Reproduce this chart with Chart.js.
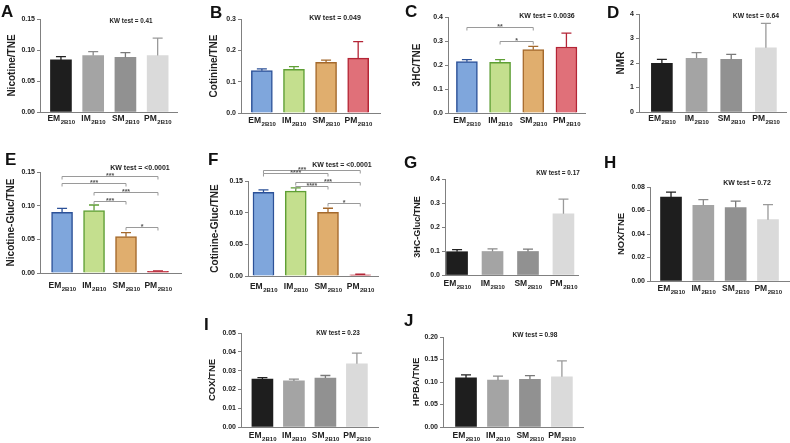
<!DOCTYPE html>
<html>
<head>
<meta charset="utf-8">
<script src="https://cdn.jsdelivr.net/npm/chart.js@4.4.1/dist/chart.umd.min.js"></script>
<style>
  html, body { margin: 0; padding: 0; background: #fff; }
  #wrap { position: relative; width: 790px; height: 443px; overflow: hidden; font-family: "Liberation Sans", Arial, sans-serif; }
  .box { position: absolute; }
  .letter { position: absolute; font-weight: bold; font-size: 17px; line-height: 17px; color: #111; }
</style>
</head>
<body>
<div id="wrap"></div>
<script>
  const groups = ['EM', 'IM', 'SM', 'PM'];
  const groupSub = '2B10';

  // mean and SEM (upper whisker) per group
  const nicotineMean = [0.084, 0.091, 0.088, 0.091];
  const nicotineErr = [0.0054, 0.0065, 0.0078, 0.028];
  const cotinineMean = [0.135, 0.139, 0.162, 0.175];
  const cotinineErr = [0.006, 0.009, 0.007, 0.053];
  const hcMean = [0.214, 0.211, 0.264, 0.275];
  const hcErr = [0.008, 0.011, 0.0135, 0.058];
  const nmrMean = [1.99, 2.19, 2.15, 2.62];
  const nmrErr = [0.16, 0.23, 0.2, 1.0];
  const nicGlucMean = [0.090, 0.0927, 0.054, 0.0024];
  const nicGlucErr = [0.006, 0.0083, 0.006, 0.0008];
  const cotGlucMean = [0.132, 0.134, 0.1006, 0.002];
  const cotGlucErr = [0.004, 0.005, 0.0064, 0.0008];
  const hcGlucMean = [0.097, 0.098, 0.098, 0.255];
  const hcGlucErr = [0.009, 0.011, 0.010, 0.061];
  const noxMean = [0.0715, 0.0644, 0.0625, 0.0522];
  const noxErr = [0.0042, 0.0049, 0.0055, 0.0128];
  const coxMean = [0.0255, 0.0245, 0.026, 0.0336];
  const coxErr = [0.0008, 0.001, 0.0014, 0.0057];
  const hpbaMean = [0.109, 0.104, 0.106, 0.1116];
  const hpbaErr = [0.007, 0.009, 0.008, 0.0354];

  const kwValues = ['0.41', '0.049', '0.0036', '0.64', '<0.0001', '<0.0001', '0.17', '0.72', '0.23', '0.98'];

  // significance brackets: groups a-b, height in data units
  const hcBrackets = [
    { a: 0, b: 2, y: 0.357, label: '**' },
    { a: 1, b: 2, y: 0.300, label: '*' }
  ];
  const nicGlucBrackets = [
    { a: 0, b: 3, y: 0.144, label: '***' },
    { a: 0, b: 2, y: 0.133, label: '***' },
    { a: 1, b: 3, y: 0.120, label: '***' },
    { a: 1, b: 2, y: 0.107, label: '***' },
    { a: 2, b: 3, y: 0.068, label: '*' }
  ];
  const cotGlucBrackets = [
    { a: 0, b: 3, y: 0.167, label: '***', at: 0.4 },
    { a: 0, b: 2, y: 0.162, label: '****' },
    { a: 1, b: 3, y: 0.149, label: '***' },
    { a: 1, b: 2, y: 0.142, label: '****' },
    { a: 2, b: 3, y: 0.115, label: '*' }
  ];

  const FONT = '"Liberation Sans", Arial, sans-serif';
  const grayPal = {
    fill: ['#1e1e1e', '#a4a4a4', '#919191', '#dadada'],
    line: ['#1e1e1e', '#a4a4a4', '#919191', '#dadada'],
    bw: 0,
    err: ['#222', '#8a8a8a', '#7a7a7a', '#9a9a9a']
  };
  const colorPal = {
    fill: ['#7fa6dc', '#c4df8e', '#e0ae6e', '#e07079'],
    line: ['#2c5198', '#5f9f35', '#a4692c', '#b42536'],
    bw: 1.5,
    err: ['#2c5198', '#5f9f35', '#a4692c', '#b42536']
  };

  const panels = [
    { id: 'A', L: 40, T: 19, R: 177, B: 112, tx: 12, xmin: -0.65, xmax: 3.6, ymax: 0.15, step: 0.05, dec: 2, title: 'Nicotine/TNE', ts: 10, mean: nicotineMean, err: nicotineErr, pal: grayPal, kw: [131, 21, 6.3], letter: [2, 5], ldy: 6 },
    { id: 'B', L: 241, T: 19, R: 380, B: 113, tx: 214, xmin: -0.65, xmax: 3.68, ymax: 0.3, step: 0.1, dec: 1, title: 'Cotinine/TNE', ts: 10, mean: cotinineMean, err: cotinineErr, pal: colorPal, kw: [335, 18, 7], letter: [211, 6], ldy: 7 },
    { id: 'C', L: 448, T: 17, R: 585, B: 113, tx: 417, xmin: -0.57, xmax: 3.56, ymax: 0.4, step: 0.1, dec: 1, title: '3HC/TNE', ts: 10, mean: hcMean, err: hcErr, pal: colorPal, kw: [547, 16, 7], letter: [406, 5], ldy: 7, brackets: hcBrackets },
    { id: 'D', L: 639, T: 14, R: 786, B: 112, tx: 621, xmin: -0.66, xmax: 3.58, ymax: 4, step: 1, dec: 0, title: 'NMR', ts: 10, mean: nmrMean, err: nmrErr, pal: grayPal, kw: [756, 16, 6.8], letter: [608, 6], ldy: 6 },
    { id: 'E', L: 40, T: 172, R: 181, B: 273, tx: 11, xmin: -0.69, xmax: 3.72, ymax: 0.15, step: 0.05, dec: 2, title: 'Nicotine-Gluc/TNE', ts: 10, mean: nicGlucMean, err: nicGlucErr, pal: colorPal, kw: [140, 168, 7], letter: [6, 153], ldy: 12, brackets: nicGlucBrackets },
    { id: 'F', L: 248, T: 181, R: 378, B: 276, tx: 215, xmin: -0.48, xmax: 3.55, ymax: 0.15, step: 0.05, dec: 2, title: 'Cotinine-Gluc/TNE', ts: 10, mean: cotGlucMean, err: cotGlucErr, pal: colorPal, kw: [342, 165, 7], letter: [209, 153], ldy: 10, brackets: cotGlucBrackets },
    { id: 'G', L: 445, T: 179, R: 578, B: 275, tx: 418, xmin: -0.34, xmax: 3.41, ymax: 0.4, step: 0.1, dec: 1, title: '3HC-Gluc/TNE', ts: 9, mean: hcGlucMean, err: hcGlucErr, pal: grayPal, kw: [558, 173, 6.4], letter: [405, 156], ldy: 8 },
    { id: 'H', L: 650, T: 187, R: 789, B: 281, tx: 622, xmin: -0.65, xmax: 3.65, ymax: 0.08, step: 0.02, dec: 2, title: 'NOX/TNE', ts: 9.5, mean: noxMean, err: noxErr, pal: grayPal, kw: [747, 183, 7], letter: [605, 156], ldy: 7 },
    { id: 'I', L: 241, T: 333, R: 378, B: 427, tx: 213, xmin: -0.68, xmax: 3.67, ymax: 0.05, step: 0.01, dec: 2, title: 'COX/TNE', ts: 9.5, mean: coxMean, err: coxErr, pal: grayPal, kw: [338, 333, 6.4], letter: [205, 318], ldy: 8 },
    { id: 'J', L: 443, T: 337, R: 583, B: 427, tx: 417, xmin: -0.72, xmax: 3.66, ymax: 0.2, step: 0.05, dec: 2, title: 'HPBA/TNE', ts: 9.5, mean: hpbaMean, err: hpbaErr, pal: grayPal, kw: [535, 335, 6.6], letter: [405, 314], ldy: 8 }
  ];

  function makeDeco(p, ox, oy, kwText) {
    return {
      id: 'deco' + p.id,
      afterDatasetsDraw(chart) {
        const ctx = chart.ctx, xs = chart.scales.x, ys = chart.scales.y;
        const base = ys.getPixelForValue(0);
        ctx.save();

        // error bars
        ctx.lineWidth = 1.3;
        p.mean.forEach((m, i) => {
          const cx = xs.getPixelForValue(i);
          const y0 = ys.getPixelForValue(m), y1 = ys.getPixelForValue(m + p.err[i]);
          ctx.strokeStyle = p.pal.err[i];
          ctx.beginPath();
          ctx.moveTo(cx, y0); ctx.lineTo(cx, y1);
          ctx.moveTo(cx - 5, y1); ctx.lineTo(cx + 5, y1);
          ctx.stroke();
        });

        // brackets
        (p.brackets || []).forEach(b => {
          const xa = xs.getPixelForValue(b.a), xb = xs.getPixelForValue(b.b);
          const yy = Math.round(ys.getPixelForValue(b.y)) + 0.5;
          ctx.strokeStyle = '#9a9a9a'; ctx.lineWidth = 1;
          ctx.beginPath();
          ctx.moveTo(xa, yy + 3); ctx.lineTo(xa, yy); ctx.lineTo(xb, yy); ctx.lineTo(xb, yy + 3);
          ctx.stroke();
          ctx.fillStyle = '#555';
          ctx.font = 'bold 7px ' + FONT;
          ctx.textAlign = 'center'; ctx.textBaseline = 'alphabetic';
          const f = b.at === undefined ? 0.5 : b.at;
          ctx.fillText(b.label, xa + (xb - xa) * f, yy + 1);
        });

        // x labels with subscript
        groups.forEach((g, i) => {
          const cx = xs.getPixelForValue(i);
          ctx.font = 'bold 8.5px ' + FONT;
          const w1 = ctx.measureText(g).width;
          ctx.font = 'bold 6px ' + FONT;
          const w2 = ctx.measureText(groupSub).width;
          const x0 = cx - (w1 + w2) / 2;
          ctx.fillStyle = '#222';
          ctx.textAlign = 'left'; ctx.textBaseline = 'alphabetic';
          ctx.font = 'bold 8.5px ' + FONT;
          ctx.fillText(g, x0, base + p.ldy + 3);
          ctx.font = 'bold 6px ' + FONT;
          ctx.fillText(groupSub, x0 + w1 + 0.5, base + p.ldy + 5.5);
        });

        // KW test label
        ctx.font = 'bold ' + p.kw[2] + 'px ' + FONT;
        ctx.fillStyle = '#222';
        ctx.textAlign = 'center'; ctx.textBaseline = 'middle';
        ctx.fillText(kwText, p.kw[0] - ox, p.kw[1] - oy);
        ctx.restore();
      }
    };
  }

  const wrap = document.getElementById('wrap');
  panels.forEach((p, k) => {
    const padTop = 26, padRight = 6, xh = 24;
    const ox = p.tx - 10, oy = p.T - padTop;
    const w = p.R - ox + padRight, h = p.B - oy + xh;

    const box = document.createElement('div');
    box.className = 'box';
    box.style.left = ox + 'px'; box.style.top = oy + 'px';
    box.style.width = w + 'px'; box.style.height = h + 'px';
    const cv = document.createElement('canvas');
    cv.width = w; cv.height = h;
    cv.style.width = w + 'px'; cv.style.height = h + 'px';
    box.appendChild(cv);
    wrap.appendChild(box);

    const lt = document.createElement('div');
    lt.className = 'letter';
    lt.textContent = p.id;
    lt.style.left = (p.letter[0] - 1) + 'px';
    lt.style.top = (p.letter[1] - 2) + 'px';
    wrap.appendChild(lt);

    new Chart(cv, {
      type: 'bar',
      data: {
        datasets: [{
          data: p.mean.map((v, i) => ({ x: i, y: v })),
          backgroundColor: p.pal.fill,
          borderColor: p.pal.line,
          borderWidth: p.pal.bw,
          borderSkipped: 'start',
          barThickness: 21
        }]
      },
      options: {
        responsive: false,
        animation: false,
        layout: { padding: { left: 4, top: padTop, right: padRight, bottom: 0 } },
        plugins: { legend: { display: false }, tooltip: { enabled: false } },
        scales: {
          x: {
            type: 'linear', min: p.xmin, max: p.xmax, offset: false,
            grid: { display: false, offset: false },
            border: { color: '#808080', width: 1 },
            ticks: { display: false },
            afterFit: s => { s.height = xh; }
          },
          y: {
            min: 0, max: p.ymax,
            ticks: {
              stepSize: p.step, padding: 2, color: '#222',
              font: { family: FONT, size: 7, weight: 'bold' },
              callback: v => Number(v).toFixed(p.dec)
            },
            grid: { drawOnChartArea: false, drawTicks: true, tickLength: 3, color: '#808080' },
            border: { color: '#808080', width: 1 },
            title: {
              display: true, text: p.title, padding: 0, color: '#222',
              font: { family: FONT, size: p.ts, weight: 'bold' }
            },
            afterFit: s => { s.width = p.L - ox - 4; }
          }
        }
      },
      plugins: [makeDeco(p, ox, oy, 'KW test = ' + kwValues[k])]
    });
  });
</script>
</body>
</html>
